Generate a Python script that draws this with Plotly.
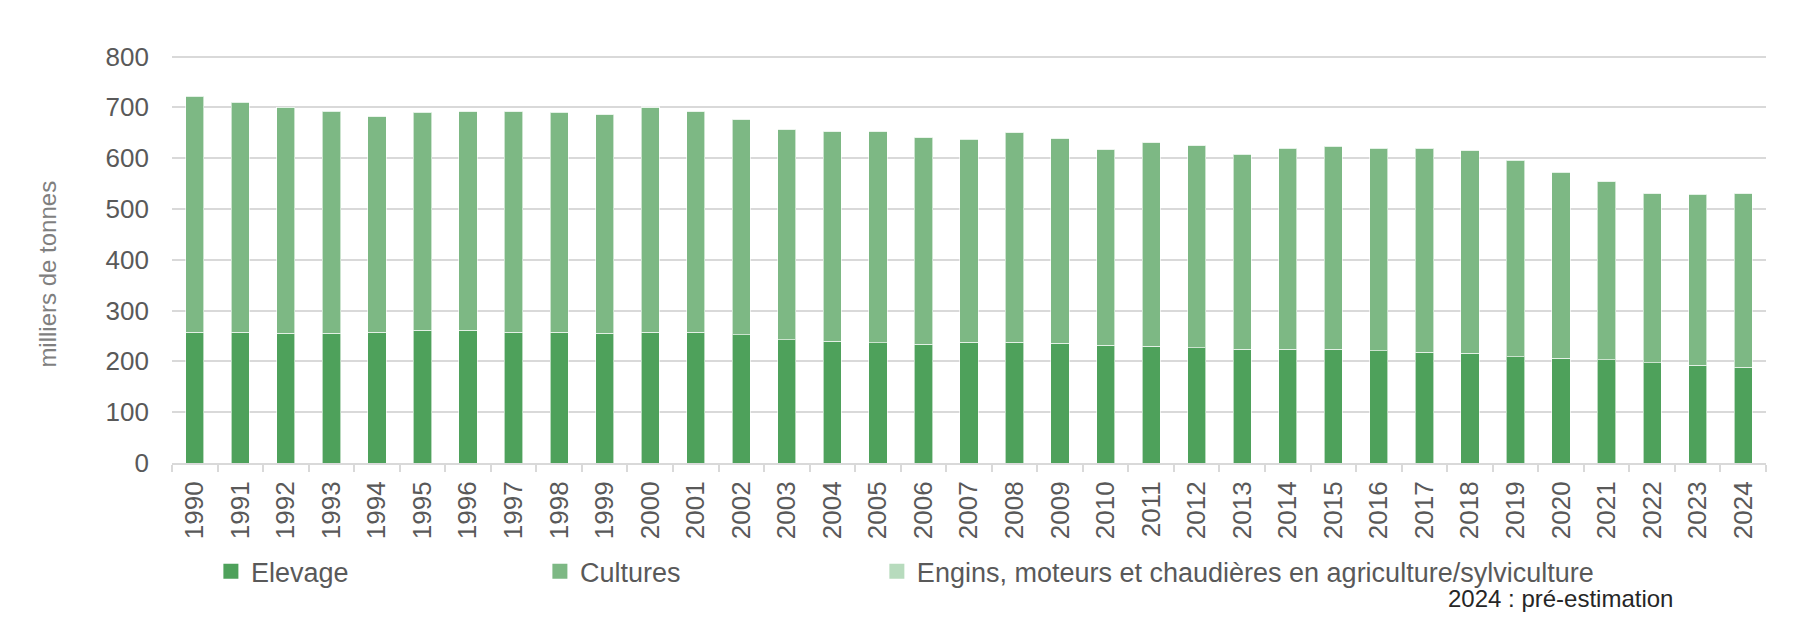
import plotly.graph_objects as go

# Emissions de NH3 - agriculture/sylviculture (milliers de tonnes)
annees = [str(a) for a in range(1990, 2025)]

elevage = [257, 257, 255, 255, 257, 261, 261, 257, 257, 255,
           257, 257, 252, 243, 240, 237, 234, 238, 238, 236,
           232, 230, 227, 224, 224, 224, 221, 218, 216, 209,
           206, 203, 197, 192, 188]

cultures = [464, 452, 444, 436, 425, 428, 431, 435, 432, 431,
            443, 435, 425, 414, 413, 416, 407, 398, 413, 403,
            386, 401, 398, 383, 395, 398, 398, 401, 400, 386,
            365, 352, 334, 336, 343]

engins = [1, 1, 1, 1, 1, 1, 1, 1, 1, 1,
          1, 1, 1, 1, 1, 1, 1, 1, 1, 1,
          1, 1, 1, 1, 1, 1, 1, 1, 1, 1,
          1, 1, 1, 1, 1]

series = [
    ("Elevage", elevage, "#4EA15B"),
    ("Cultures", cultures, "#7DB884"),
    ("Engins, moteurs et chaudières en agriculture/sylviculture", engins, "#B7DBBD"),
]

POLICE = "Liberation Sans, Arial, sans-serif"
GRIS = "#595959"
GRILLE = "#D9D9D9"

# une légende par série, placées comme dans Excel
legendes = ["legend", "legend2", "legend3"]
legende_x = [0.0244, 0.2308, 0.4422]

fig = go.Figure()

for nom, valeurs, couleur in series:
    fig.add_trace(
        go.Bar(
            x=annees,
            y=valeurs,
            name=nom,
            showlegend=False,
            marker=dict(color=couleur, line=dict(color="rgba(255,255,255,0.6)", width=1)),
        )
    )

# entrées de légende (carrés plus gros que ceux des barres)
for (nom, valeurs, couleur), leg in zip(series, legendes):
    fig.add_trace(
        go.Scatter(
            x=[None],
            y=[None],
            mode="markers",
            name=nom,
            legend=leg,
            marker=dict(symbol="square", size=15, color=couleur),
        )
    )

leg_style = dict(
    orientation="h",
    xanchor="left",
    y=-0.266,
    yanchor="middle",
    font=dict(size=27, color=GRIS, family=POLICE),
    bgcolor="rgba(0,0,0,0)",
    itemwidth=30,
)

fig.update_layout(
    width=1806,
    height=634,
    margin=dict(l=164, r=48, t=45.5, b=179, autoexpand=False),
    barmode="stack",
    bargap=0.6,
    plot_bgcolor="white",
    paper_bgcolor="white",
    font=dict(family=POLICE, color=GRIS, size=26),
    showlegend=True,
    legend=dict(x=legende_x[0], **leg_style),
    legend2=dict(x=legende_x[1], **leg_style),
    legend3=dict(x=legende_x[2], **leg_style),
    annotations=[
        dict(
            text="milliers de tonnes",
            xref="paper", yref="paper",
            x=-0.0778, y=0.463,
            xanchor="center", yanchor="middle",
            textangle=-90,
            showarrow=False,
            font=dict(size=24, color="#7F7F7F", family=POLICE),
        ),
        dict(
            text="2024 : pré-estimation",
            xref="paper", yref="paper",
            x=0.943, y=-0.3325,
            xanchor="right", yanchor="middle",
            showarrow=False,
            font=dict(size=24, color="#262626", family=POLICE),
        ),
    ],
)

fig.update_xaxes(
    type="category",
    tickangle=-90,
    ticks="outside",
    tickson="boundaries",
    ticklen=7,
    tickwidth=2,
    tickcolor=GRILLE,
    showline=True,
    linecolor=GRILLE,
    linewidth=2,
    showgrid=False,
    automargin=False,
    ticklabelstandoff=6,
    tickfont=dict(size=26, color=GRIS),
)

fig.update_yaxes(
    range=[0, 805],
    dtick=100,
    showgrid=True,
    gridcolor=GRILLE,
    gridwidth=2,
    zeroline=False,
    showline=False,
    ticks="",
    ticklabelstandoff=22,
    automargin=False,
    tickfont=dict(size=26, color=GRIS),
)

fig.write_html("out.html")
